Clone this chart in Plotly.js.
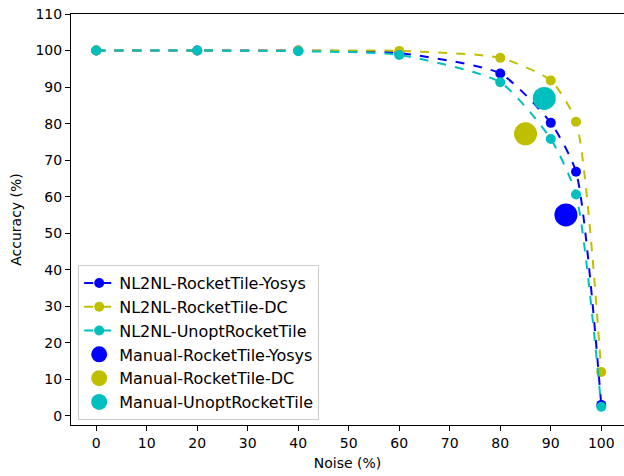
<!DOCTYPE html>
<html><head><meta charset="utf-8">
<script src="https://cdn.plot.ly/plotly-3.0.1.min.js"></script>
<style>html,body{margin:0;padding:0;background:#fff}#chart{width:624px;height:476px}</style>
</head><body><div id="chart"></div>
<script>
const noise = [0, 20, 40, 60, 80, 90, 95, 100];
const yosys = [100, 100, 100, 99.3, 93.7, 80.2, 66.8, 3.0];
const dc = [100, 100, 100, 99.9, 98.0, 91.8, 80.5, 12.0];
const unopt = [100, 100, 99.8, 98.8, 91.3, 75.8, 60.6, 2.5];
const manualNames = ["Manual-RocketTile-Yosys", "Manual-RocketTile-DC", "Manual-UnoptRocketTile"];
const manualX = [93, 85, 88.7];
const manualY = [55.0, 77.2, 86.9];
const lineNames = ["NL2NL-RocketTile-Yosys", "NL2NL-RocketTile-DC", "NL2NL-UnoptRocketTile"];
const colors = ["#0000ff", "#bfbf00", "#00bfbf"];
const series = [yosys, dc, unopt];

const traces = [];
series.forEach((s, i) => {
  traces.push({
    x: noise, y: s, name: lineNames[i], type: "scatter", mode: "lines+markers",
    line: {color: colors[i], width: 2, dash: "dash", shape: "spline", smoothing: 0.6},
    marker: {color: colors[i], size: 10}
  });
});
manualX.forEach((x, i) => {
  traces.push({
    x: [x], y: [manualY[i]], name: manualNames[i], type: "scatter", mode: "markers",
    marker: {color: colors[i], size: 23}
  });
});

const axisCommon = {
  showline: true, mirror: true, linecolor: "#000", linewidth: 1,
  ticks: "outside", ticklen: 5, tickcolor: "#000", tickwidth: 1,
  showgrid: false, zeroline: false,
  tickfont: {family: "DejaVu Sans", size: 14, color: "#000"}
};
const layout = {
  width: 624, height: 476,
  margin: {l: 71, r: 0, t: 14, b: 51},
  paper_bgcolor: "#fff", plot_bgcolor: "#fff",
  showlegend: true,
  xaxis: Object.assign({}, axisCommon, {
    range: [-5, 104.5], tickvals: [0,10,20,30,40,50,60,70,80,90,100],
    title: {text: "Noise (%)", font: {family: "DejaVu Sans", size: 14, color: "#000"}, standoff: 8}
  }),
  yaxis: Object.assign({}, axisCommon, {
    range: [-2.5, 110], tickvals: [0,10,20,30,40,50,60,70,80,90,100,110],
    title: {text: "Accuracy (%)", font: {family: "DejaVu Sans", size: 14, color: "#000"}, standoff: 10}
  }),
  legend: {
    x: 0.013, y: 0.012, xanchor: "left", yanchor: "bottom",
    bgcolor: "rgba(255,255,255,0.8)", bordercolor: "#cccccc", borderwidth: 1,
    font: {family: "DejaVu Sans", size: 16, color: "#000"},
    tracegroupgap: 0
  }
};
Plotly.newPlot("chart", traces, layout, {displayModeBar: false, staticPlot: true});
</script></body></html>
